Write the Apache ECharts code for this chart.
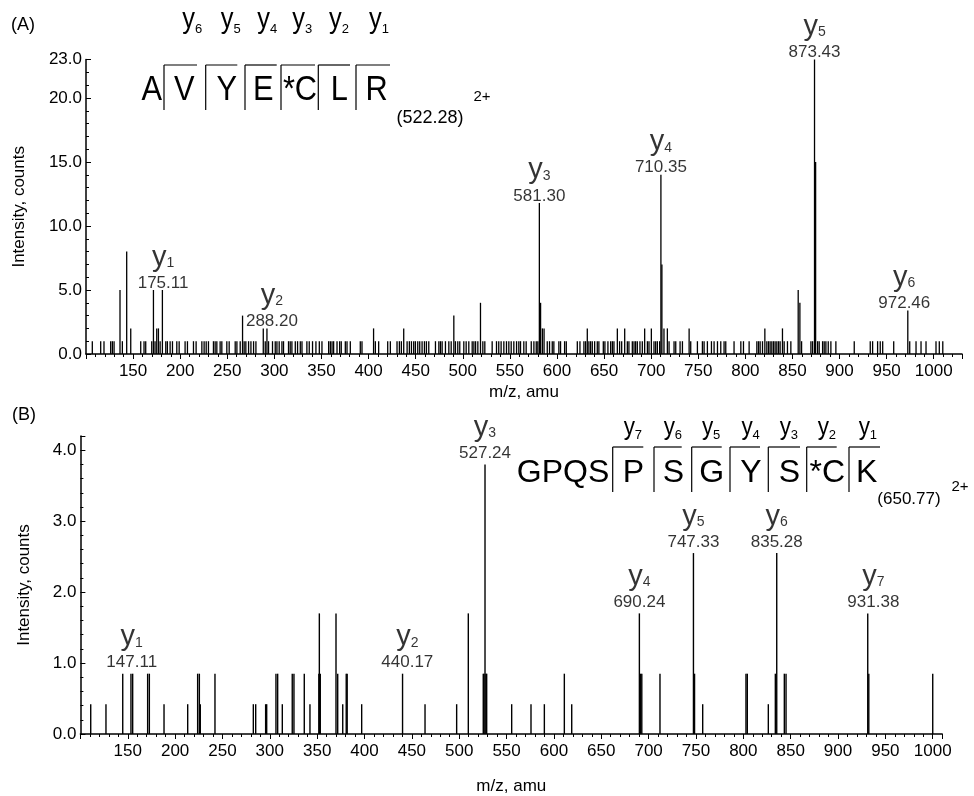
<!DOCTYPE html>
<html><head><meta charset="utf-8">
<script src="https://cdn.jsdelivr.net/npm/echarts@6/dist/echarts.min.js"></script>
<style>html,body{margin:0;padding:0;background:#fff}#c{width:974px;height:796px}</style>
</head><body><div id="c"></div>
<script>
// ---------- Panel A spectrum (m/z, intensity) ----------
const mzA = [106.7,115.6,119.1,126.2,128.0,129.8,136.1,138.6,143.2,147.5,158.1,161.6,163.4,169.8,171.6,173.3,175.1,176.9,178.7,181.1,
184.7,186.4,189.3,191.8,196.4,198.9,205.2,207.7,214.1,216.9,223.0,225.4,227.6,230.0,235.3,237.1,238.9,242.4,244.2,249.5,
252.0,258.4,260.2,263.7,266.2,267.9,269.7,272.6,275.1,277.9,280.4,288.2,290.3,292.1,293.8,298.0,300.9,302.7,305.1,308.0,
309.7,315.0,316.8,318.6,322.2,324.6,327.5,329.3,334.5,337.0,340.5,344.1,347.7,350.5,357.6,359.4,361.2,362.9,366.5,369.3,
371.0,375.3,377.1,380.6,391.2,393.0,405.3,407.2,410.7,420.3,423.1,430.2,432.7,434.8,437.3,440.9,443.3,445.5,447.9,449.7,
452.2,454.3,456.8,459.3,461.4,463.9,471.0,474.6,476.3,478.1,481.6,485.2,487.7,490.5,492.2,494.7,496.8,501.1,503.6,506.4,
510.0,511.8,513.6,516.0,518.8,521.3,523.4,531.2,535.8,538.2,540.7,543.6,546.4,548.9,551.4,554.2,557.1,559.5,561.3,564.8,
567.3,572.7,575.5,578.0,579.7,581.3,582.6,584.5,586.3,589.7,592.1,595.0,596.7,602.0,603.8,608.1,609.9,621.6,624.4,628.6,
630.4,632.2,633.9,635.7,637.5,640.0,642.8,644.5,649.2,650.9,654.1,657.0,658.8,660.5,664.1,666.5,668.7,671.9,674.7,676.4,
680.0,681.8,683.5,685.3,688.1,690.6,693.1,696.0,697.7,700.2,703.0,704.8,706.6,709.0,710.35,711.4,713.6,717.2,719.0,724.3,
726.1,730.7,733.2,740.3,742.0,749.1,754.4,756.2,759.7,764.0,766.8,770.4,773.9,777.4,779.2,788.0,795.2,798.0,804.0,812.2,
814.0,815.7,818.2,820.7,822.8,824.6,826.3,828.1,829.9,831.6,833.4,835.2,836.9,839.4,841.2,844.7,848.3,856.1,857.9,859.7,
869.6,871.4,873.43,874.6,876.7,878.4,882.0,883.7,885.5,888.0,890.8,896.1,915.6,932.6,935.1,940.4,943.2,945.8,957.5,972.46,
974.5,981.2,986.5,991.8,1002.4,1005.9,1009.6];
const intA = [1,1,1,1,1,1,5.0,1,8.0,2.0,1,1,1,1,5.0,1,2.0,2.0,1,5.0,
1,1,1,1,1,1,1,1,1,1,1,1,1,1,1,1,1,1,1,1,
1,1,1,1,3.0,1,1,1,1,1,1,2.0,1,2.0,1,1,1,1,1,1,
1,1,1,1,1,1,1,1,1,1,1,1,1,1,1,1,1,1,1,1,
1,1,1,1,1,1,2.0,1,1,1,1,1,1,1,2.0,1,1,1,1,1,
1,1,1,1,1,1,1,1,1,1,1,1,1,3.0,1,1,1,1,1,1,
1,1,1,1,4.0,1,1,1,1,1,1,1,1,1,1,1,1,1,1,1,
1,1,1,1,1,11.8,4.0,2.0,2.0,1,1,1,1,1,1,1,1,1,1,1,
1,2.0,1,1,1,1,1,1,1,1,1,1,1,1,2.0,1,1,2.0,1,1,
1,1,1,1,1,1,2.0,1,1,2.0,1,1,1,1,14.0,7.0,2.0,2.0,1,1,
1,1,1,2.0,1,1,1,1,1,1,1,1,1,1,1,1,1,1,1,1,
1,1,1,2.0,1,1,1,1,1,1,1,1,1,2.0,1,1,1,5.0,4.0,1,
1,1,23.0,15.0,1,1,1,1,1,1,1,1,1,1,1,1,1,1,1,3.4,
1,1,1,1,1,1,1];

// ---------- Panel B spectrum ----------
const mzB = [110.9,127.0,144.7,153.4,155.2,171.0,172.8,188.3,213.3,223.8,225.6,226.6,242.1,282.6,285.1,295.6,296.7,306.5,308.3,313.2,
323.7,325.5,336.4,342.4,351.8,352.3,353.3,369.9,371.7,377.0,380.7,381.7,397.0,440.17,463.9,497.3,509.6,525.4,526.2,527.24,
528.2,529.0,555.4,575.8,589.9,611.0,618.8,690.24,691.5,692.8,712.0,747.33,748.5,757.1,802.8,804.2,826.4,833.8,835.28,843.3,
845.1,931.38,932.5,1000.0];
const intB = [0.42,0.42,0.85,0.85,0.85,0.85,0.85,0.42,0.42,0.85,0.85,0.42,0.85,0.42,0.42,0.42,0.42,0.85,0.85,0.42,
0.85,0.85,0.85,0.42,0.85,1.70,0.85,1.70,0.85,0.42,0.85,0.85,0.42,0.85,0.42,0.42,1.70,0.85,0.85,3.80,
0.85,0.85,0.42,0.42,0.42,0.85,0.42,1.70,0.85,0.85,0.85,2.55,0.85,0.42,0.85,0.85,0.42,0.85,2.55,0.85,
0.85,1.70,0.85,0.85];

// ---------- Ion annotations (label text, anchor m/z, anchor intensity) ----------
const ionNumA = ['1','2','3','4','5','6'];
const ionMzA = ['175.11','288.20','581.30','710.35','873.43','972.46'];
const ionAnchorMzA = [181.8,297.4,581.3,710.35,873.43,968.7];
const ionAnchorIntA = [5.0,2.0,11.8,14.0,23.0,3.4];

const ionNumB = ['1','2','3','4','5','6','7'];
const ionMzB = ['147.11','440.17','527.24','690.24','747.33','835.28','931.38'];
const ionAnchorMzB = [154.2,445.2,527.24,690.24,747.33,835.28,937.3];
const ionAnchorIntB = [0.85,0.85,3.80,1.70,2.55,2.55,1.70];

// ---------- Axis tick settings ----------
const xTickStep = 50;
const yTickStepA = 5;
const yTickStepB = 1;

const FONT = 'Liberation Sans, Arial, sans-serif';
const chart = echarts.init(document.getElementById('c'), null, {renderer: 'canvas'});

function xAxis(gi, min, max, gap) {
  return {
    type: 'value', gridIndex: gi, min: min, max: max, interval: xTickStep,
    axisLine: {show: true, onZero: false, lineStyle: {color: '#000', width: 1.5}},
    axisTick: {show: true, inside: false, length: 5, lineStyle: {color: '#000', width: 1}},
    minorTick: {show: true, splitNumber: 5, length: 3, lineStyle: {color: '#000', width: 1}},
    axisLabel: {showMinLabel: false, showMaxLabel: false, color: '#000', fontSize: 17, fontFamily: FONT, margin: 9,
      formatter: v => String(v)},
    splitLine: {show: false},
    name: 'm/z, amu', nameLocation: 'middle', nameGap: gap,
    nameTextStyle: {color: '#000', fontSize: 17, fontFamily: FONT}
  };
}
function yAxis(gi, max, step, gap, showMax) {
  return {
    type: 'value', gridIndex: gi, min: 0, max: max, interval: step,
    axisLine: {show: true, lineStyle: {color: '#000', width: 1.5}},
    axisTick: {show: true, inside: true, length: 5, lineStyle: {color: '#000', width: 1}},
    minorTick: {show: true, splitNumber: 5, length: 3, lineStyle: {color: '#000', width: 1}},
    axisLabel: {showMaxLabel: showMax, color: '#000', fontSize: 17, fontFamily: FONT, margin: 4,
      formatter: v => v.toFixed(1)},
    splitLine: {show: false},
    name: 'Intensity, counts', nameLocation: 'middle', nameGap: gap,
    nameTextStyle: {color: '#000', fontSize: 17, fontFamily: FONT}
  };
}
function ionSeries(xi, nums, mzs, amz, aint, dist) {
  return {
    type: 'scatter', xAxisIndex: xi, yAxisIndex: xi, symbolSize: 0, silent: true,
    data: amz.map((m, i) => ({value: [m, aint[i]], n: nums[i], mz: mzs[i]})),
    label: {
      show: true, position: 'top', distance: dist, align: 'center', color: '#000',
      formatter: p => '{y|y}{s|' + p.data.n + '}\n{v|' + p.data.mz + '}',
      rich: {
        y: {fontSize: 29, fontFamily: FONT, color: '#000', lineHeight: 24, verticalAlign: 'bottom'},
        s: {fontSize: 14, fontFamily: FONT, color: '#000', lineHeight: 24, verticalAlign: 'bottom', padding: [0, 0, 2, 0]},
        v: {fontSize: 17, fontFamily: FONT, color: '#000', lineHeight: 22}
      }
    }
  };
}

// ---------- peptide sequence diagrams (decorations) ----------
const g = [];
function txt(x, y, s, fs, sx) {
  g.push({type: 'text', x: x, y: y, scaleX: sx || 1, silent: true,
    style: {text: s, x: 0, y: 0, fontSize: fs, fontFamily: FONT, fill: '#000', align: 'center', verticalAlign: 'middle'}});
}
function ln(x1, y1, x2, y2) {
  g.push({type: 'line', silent: true, shape: {x1: x1, y1: y1, x2: x2, y2: y2}, style: {stroke: '#000', lineWidth: 1.2}});
}
txt(23, 25, '(A)', 18);
txt(24, 415, '(B)', 18);
// A sequence
const seqA = ['A','V','Y','E','*C','L','R'];
const seqAx = [151.7,184.3,226.7,263.3,300,339.3,376.7];
seqA.forEach((s, i) => txt(seqAx[i], 90, s, 35, 0.88));
const brA = [[164,197],[205.7,237.3],[245,276.7],[281,315],[318.3,350],[356,390]];
brA.forEach(b => { ln(b[0], 65, b[0], 110); ln(b[0], 65, b[1], 65); });
const yA = [[191.7,'6'],[230,'5'],[266.7,'4'],[301.7,'3'],[338.3,'2'],[378.3,'1']];
yA.forEach(t => { txt(t[0]-3, 20, 'y', 30, 0.85); txt(t[0]+7, 29, t[1], 13); });
txt(430, 118, '(522.28)', 18);
txt(482, 97, '2+', 15);
// B sequence
txt(563, 473, 'GPQS', 32);
const seqB = ['P','S','G','Y','S','*C','K'];
const seqBx = [633.3,673.3,711.7,751,789.3,827.3,866.7];
seqB.forEach((s, i) => txt(seqBx[i], 473, s, 32));
const brB = [[612.7,643.3],[654,681.7],[691.7,721.7],[730,760],[768.3,800],[806.7,836.7],[849,880]];
brB.forEach(b => { ln(b[0], 447, b[0], 492); ln(b[0], 447, b[1], 447); });
const yB = [[633.3,'7'],[673.3,'6'],[711.7,'5'],[751,'4'],[789.3,'3'],[827.3,'2'],[868.3,'1']];
yB.forEach(t => { txt(t[0]-4, 428, 'y', 25, 0.9); txt(t[0]+5, 435, t[1], 13); });
txt(909, 499, '(650.77)', 17);
txt(960, 487, '2+', 15);

chart.setOption({
  animation: false,
  backgroundColor: '#fff',
  grid: [
    {left: 86, right: 12, top: 59.6, bottom: 442, containLabel: false},
    {left: 80.4, right: 31.8, top: 436, bottom: 62, containLabel: false}
  ],
  xAxis: [xAxis(0, 100, 1030, 30), xAxis(1, 100, 1010, 44)],
  yAxis: [yAxis(0, 23, yTickStepA, 58, true), yAxis(1, 4.2, yTickStepB, 48, false)],
  series: [
    {type: 'bar', xAxisIndex: 0, yAxisIndex: 0, barWidth: 1.3, silent: true,
     itemStyle: {color: '#000'}, data: mzA.map((m, i) => [m, intA[i]])},
    {type: 'bar', xAxisIndex: 1, yAxisIndex: 1, barWidth: 1.4, silent: true,
     itemStyle: {color: '#000'}, data: mzB.map((m, i) => [m, intB[i]])},
    ionSeries(0, ionNumA, ionMzA, ionAnchorMzA, ionAnchorIntA, -4),
    ionSeries(1, ionNumB, ionMzB, ionAnchorMzB, ionAnchorIntB, 0)
  ],
  graphic: g
});
</script></body></html>
